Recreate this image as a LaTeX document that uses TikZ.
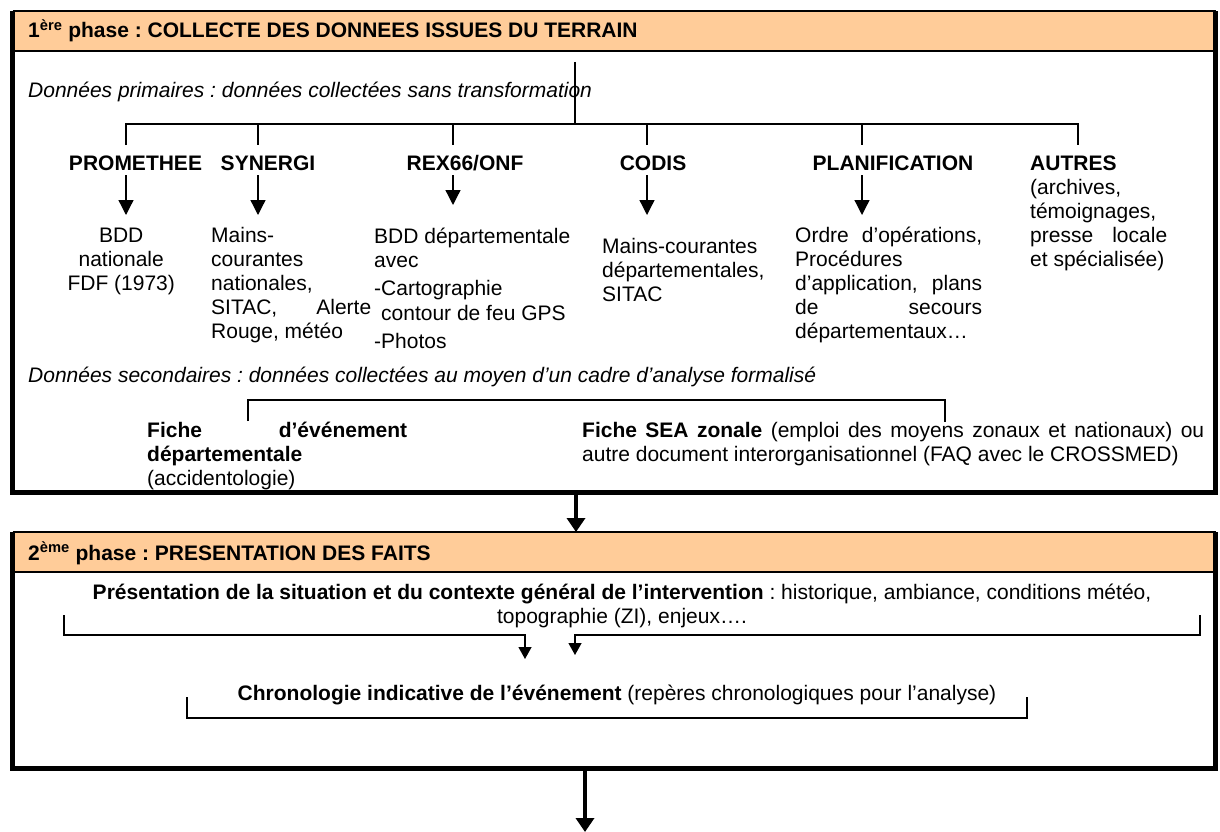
\documentclass[tikz,border=0pt]{standalone}
\usepackage{fontspec}
\setmainfont{Liberation Sans}
\usetikzlibrary{arrows.meta}
\definecolor{band}{HTML}{FFCC99}
\frenchspacing
\begin{document}
\begin{tikzpicture}[x=1pt,y=-1pt,
  txt/.style={inner sep=0pt, anchor=base west, font=\fontsize{21}{24}\selectfont\frenchspacing},
  ctxt/.style={inner sep=0pt, anchor=base, font=\fontsize{21}{24}\selectfont\frenchspacing},
  link/.style={line width=1.3pt},
  arr/.style={line width=1.3pt, -{Triangle[length=15pt,width=15pt]}},
  sarr/.style={line width=1.3pt, -{Triangle[length=12pt,width=13pt]}},
  bigarr/.style={line width=4pt, -{Triangle[length=14pt,width=18pt]}},
  thickb/.style={line width=5pt, line join=miter},
  thinb/.style={line width=2pt},
]
\useasboundingbox (0,0) rectangle (1220,832);

% ---------- Box 1 ----------
\coordinate (B1tl) at (12.5,11);
\coordinate (B1tr) at (1215.5,11);
\coordinate (B1bl) at (12.5,492);
\coordinate (B1br) at (1215.5,492);
\coordinate (B1hl) at (12.5,51);
\coordinate (B1hr) at (1215.5,51);
\fill[band] (B1tl) rectangle (B1hr);
\draw[thinb] (B1tl) -- (B1tr);
\draw[line width=1.5pt] (B1hl) -- (B1hr);
\draw[thickb] (B1tl) -- (B1bl) -- (B1br) -- (B1tr);

\node[txt] (h1) at (28,38) {\textbf{1\textsuperscript{ère} phase : COLLECTE DES DONNEES ISSUES DU TERRAIN}};
\node[txt] (prim) at (28,98) {\itshape Données primaires : données collectées sans transformation};

% tree
\coordinate (root) at (575,62);
\coordinate (rootb) at (575,124);
\draw[link] (root) -- (rootb);
\foreach \n/\x in {1/126,2/258,3/453,4/647,5/862,6/1078}{
  \coordinate (t\n) at (\x,124);
  \coordinate (b\n) at (\x,145);
}
\draw[link] (b1) -- (t1) -- (t6) -- (b6);
\foreach \n in {2,3,4,5}{ \draw[link] (t\n) -- (b\n); }

\node[ctxt] (lprom) at (135.5,170) {\textbf{PROMETHEE}};
\node[ctxt] (lsyn)  at (268,170) {\textbf{SYNERGI}};
\node[ctxt] (lrex)  at (465,170) {\textbf{REX66/ONF}};
\node[ctxt] (lcod)  at (653,170) {\textbf{CODIS}};
\node[ctxt] (lplan) at (893,170) {\textbf{PLANIFICATION}};
\node[txt]  (laut)  at (1030,170) {\textbf{AUTRES}};

\foreach \n/\x/\e in {1/126/215,2/258/215,3/453/205,4/647/215,5/862/215}{
  \coordinate (a\n) at (\x,175);
  \coordinate (e\n) at (\x,\e);
  \draw[arr] (a\n) -- (e\n);
}

\node[txt] (tprom) at (61,242) {\parbox[t]{120pt}{\centering BDD\\nationale\\FDF (1973)}};
\node[txt] (tsyn) at (211,242) {\parbox[t]{160pt}{\raggedright Mains-\\courantes\\nationales,\\SITAC,\hfill Alerte\\Rouge, météo}};
\node[txt] (trex) at (374,243) {\parbox[t]{215pt}{\raggedright BDD départementale\\avec\\[4pt]-Cartographie\\[1pt]\hspace*{7pt}contour de feu GPS\\[4pt]-Photos}};
\node[txt] (tcod) at (602,253) {\parbox[t]{170pt}{\raggedright Mains-courantes\\départementales,\\SITAC}};
\node[txt] (tplan) at (795,242) {\parbox[t]{187pt}{\raggedright Ordre\hfill d’opérations,\\Procédures\\d’application,\hfill plans\\de\hfill secours\\départementaux…}};
\node[txt] (taut) at (1030,194) {\parbox[t]{137pt}{\raggedright (archives,\\témoignages,\\presse\hfill locale\\et spécialisée)}};

\node[txt] (sec) at (28,382) {\itshape Données secondaires : données collectées au moyen d’un cadre d’analyse formalisé};

\coordinate (s1) at (248,421);
\coordinate (s2) at (248,400);
\coordinate (s3) at (945,400);
\coordinate (s4) at (945,422);
\draw[link] (s1) -- (s2) -- (s3) -- (s4);

\node[txt] (fdep) at (147,437) {\parbox[t]{260pt}{\raggedright\textbf{Fiche}\hfill\textbf{d’événement}\\\textbf{départementale}\\(accidentologie)}};
\node[txt] (fsea) at (582,437) {\parbox[t]{622pt}{\makebox[\linewidth][s]{\textbf{Fiche SEA zonale} (emploi des moyens zonaux et nationaux) ou}\\autre document interorganisationnel (FAQ avec le CROSSMED)}};

% ---------- arrow between boxes ----------
\coordinate (B1out) at (576,494.5);
\coordinate (B2in) at (576,532);
\draw[bigarr] (B1out) -- (B2in);

% ---------- Box 2 ----------
\coordinate (B2tl) at (12.5,532);
\coordinate (B2tr) at (1215.5,532);
\coordinate (B2bl) at (12.5,768.5);
\coordinate (B2br) at (1215.5,768.5);
\coordinate (B2hl) at (12.5,572);
\coordinate (B2hr) at (1215.5,572);
\fill[band] (B2tl) rectangle (B2hr);
\draw[thinb] (B2tl) -- (B2tr);
\draw[line width=1.5pt] (B2hl) -- (B2hr);
\draw[thickb] (B2tl) -- (B2bl) -- (B2br) -- (B2tr);

\node[txt] (h2) at (28,560) {\textbf{2\textsuperscript{ème} phase : PRESENTATION DES FAITS}};

\node[ctxt] (pres) at (622,599) {\parbox[t]{1110pt}{\centering\textbf{Présentation de la situation et du contexte général de l’intervention} : historique, ambiance, conditions météo,\\topographie (ZI), enjeux….}};

\coordinate (pl1) at (64,615);
\coordinate (pl2) at (64,635);
\coordinate (pl3) at (525,635);
\coordinate (pl4) at (525,659);
\draw[sarr] (pl1) -- (pl2) -- (pl3) -- (pl4);
\coordinate (pr1) at (1200,615);
\coordinate (pr2) at (1200,635);
\coordinate (pr3) at (575,635);
\coordinate (pr4) at (575,655);
\draw[sarr] (pr1) -- (pr2) -- (pr3) -- (pr4);

\node[ctxt] (chrono) at (617,700) {\textbf{Chronologie indicative de l’événement} (repères chronologiques pour l’analyse)};

\coordinate (c1) at (187,697);
\coordinate (c2) at (187,718);
\coordinate (c3) at (1027,718);
\coordinate (c4) at (1027,697);
\draw[link] (c1) -- (c2) -- (c3) -- (c4);

% ---------- outgoing arrow ----------
\coordinate (B2out) at (585,771);
\coordinate (endarr) at (585,832);
\draw[bigarr] (B2out) -- (endarr);
\end{tikzpicture}
\end{document}
